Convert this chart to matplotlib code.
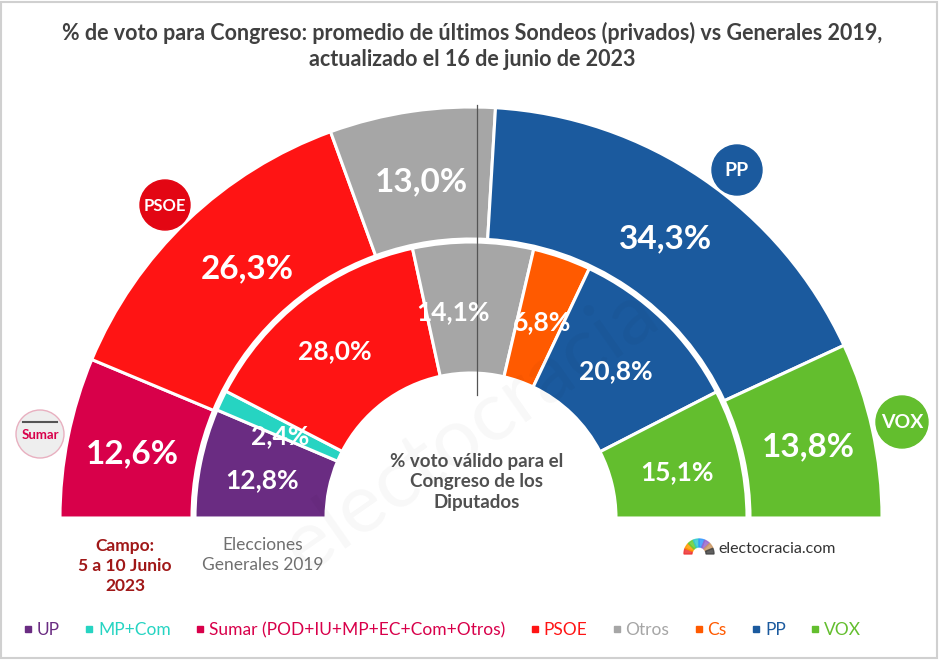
import matplotlib
matplotlib.use("Agg")
import matplotlib.pyplot as plt
from matplotlib.lines import Line2D
from matplotlib.patches import Circle, Rectangle, Wedge
import numpy as np

plt.rcParams['font.family'] = ['Lato', 'DejaVu Sans']

# ---- data ----
outer_parties = ["Sumar", "PSOE", "Otros", "PP", "VOX"]
outer_values = [12.6, 26.3, 13.0, 34.3, 13.8]
inner_parties = ["UP", "MP+Com", "PSOE", "Otros", "Cs", "PP", "VOX"]
inner_values = [12.8, 2.4, 28.0, 14.1, 6.8, 20.8, 15.1]
legend_labels = ["UP", "MP+Com", "Sumar (POD+IU+MP+EC+Com+Otros)", "PSOE", "Otros", "Cs", "PP", "VOX"]
legend_keys = ["UP", "MP+Com", "Sumar", "PSOE", "Otros", "Cs", "PP", "VOX"]

colors = {
    "UP": "#6A2C82", "MP+Com": "#26D4C2", "Sumar": "#D8004A", "PSOE": "#FF1414",
    "Otros": "#A6A6A6", "Cs": "#FF5A00", "PP": "#1B5A9E", "VOX": "#63BE2E",
}

W, H = 940, 660
fig = plt.figure(figsize=(W / 100, H / 100), dpi=100)
ax = fig.add_axes([0, 0, 1, 1])

def Y(y):  # pixel y (from top) -> data y (up)
    return H - y

cx, cy = 471, Y(518)
R_out, w_out = 411, 132
R_in, w_in = 276, 131

def half_pie(values, keys, radius, width):
    vals = list(values) + [sum(values)]
    cols = [colors[k] for k in keys] + ["none"]
    wedges, _ = ax.pie(vals, colors=cols, startangle=180, counterclock=False,
                       radius=radius, center=(cx, cy),
                       wedgeprops=dict(width=width, edgecolor="white", linewidth=2.2))
    wedges[-1].set_visible(False)
    return wedges

w1 = half_pie(outer_values, outer_parties, R_out, w_out)
w2 = half_pie(inner_values, inner_parties, R_in, w_in)

ax.set_xlim(0, W)
ax.set_ylim(0, H)
ax.set_aspect("auto")
ax.axis("off")

def labels(values, radius, width, size, offsets=None):
    total = sum(values)
    start = 180.0
    rm = radius - width / 2
    for i, v in enumerate(values):
        span = 180.0 * v / total
        mid = np.deg2rad(start - span / 2)
        start -= span
        dx, dy = (offsets or {}).get(i, (0, 0))
        x = cx + rm * np.cos(mid) + dx
        y = cy + rm * np.sin(mid) + dy
        ax.text(x, y, f"{v:.1f}%".replace(".", ","), ha="center", va="center",
                color="white", fontsize=size, fontweight="bold", zorder=5)

labels(outer_values, R_out, w_out, 24, {0: (0, -4), 1: (14, 0), 2: (0, -5), 3: (0, -6), 4: (0, -3)})
labels(inner_values, R_in, w_in, 19, {0: (-3, -4), 1: (0, -8), 2: (-8, 0), 3: (-20, -5),
                                     4: (2, -3), 5: (-2, -4), 6: (1, -4)})

# vertical divider
ax.plot([477, 477], [Y(105), Y(395)], color="#555555", lw=0.9, zorder=4)

# title
ax.text(472, Y(33), "% de voto para Congreso: promedio de últimos Sondeos (privados) vs Generales 2019,",
        ha="center", va="center", fontsize=15.5, fontweight="bold", color="#404040")
ax.text(472, Y(60), "actualizado el 16 de junio de 2023",
        ha="center", va="center", fontsize=15.5, fontweight="bold", color="#404040")

# center text
ax.text(477, Y(482), "% voto válido para el\nCongreso de los\nDiputados", ha="center", va="center",
        fontsize=13.5, fontweight="bold", color="#505050", linespacing=1.25)

# bottom notes
ax.text(125, Y(566), "Campo:\n5 a 10 Junio\n2023", ha="center", va="center",
        fontsize=12.5, fontweight="bold", color="#A01818", linespacing=1.3)
ax.text(263, Y(555), "Elecciones\nGenerales 2019", ha="center", va="center",
        fontsize=12.5, color="#707070", linespacing=1.3)

# electocracia mark
ax.text(718, Y(549), "electocracia.com", ha="left", va="center", fontsize=11.5, color="#333333")
for k, c in enumerate(["#E33", "#F90", "#6C3", "#3CC", "#39F", "#96C", "#C96", "#444"]):
    a0 = 180 - k * 22.5
    ax.add_patch(Wedge((699, Y(554)), 15, a0 - 22.5, a0, width=8, color=c, alpha=0.85))

# faint watermark
ax.text(470, Y(430), "electocracia", rotation=35, fontsize=60, color="#000000", alpha=0.03,
        ha="center", va="center", zorder=6)

# logos
def logo(x, y, r, fc, text, tc, size, ec=None):
    ax.add_patch(Circle((x, Y(y)), r, facecolor=fc, edgecolor=ec or fc, lw=1, zorder=6))
    ax.text(x, Y(y) - 1, text, ha="center", va="center", color=tc, fontsize=size,
            fontweight="bold", zorder=7)

logo(165, 205, 25, "#E30613", "PSOE", "white", 12)
logo(737, 170, 25, "#1B5A9E", "PP", "white", 14)
logo(902, 422, 26, "#63BE2E", "VOX", "white", 14)
logo(40, 434, 24, "#EEEEEE", "Sumar", "#D8004A", 9.5, ec="#E8B0C0")
ax.plot([23, 57], [Y(422), Y(422)], color="#555555", lw=1.5, zorder=7)

# legend
handles = [Line2D([], [], marker="s", ls="none", markersize=5, color=colors[k]) for k in legend_keys]
leg = fig.legend(handles, legend_labels, loc="center", bbox_to_anchor=(442 / W, 1 - 630 / H),
                 ncol=8, frameon=False, fontsize=12.5, handletextpad=0.2, columnspacing=1.4,
                 handlelength=0.6, labelcolor="markerfacecolor")

# border
ax.add_patch(Rectangle((1, 2), W - 4, H - 4, fill=False, edgecolor="#D0D0D0", lw=1.5))

fig.savefig("out.png", dpi=100)
